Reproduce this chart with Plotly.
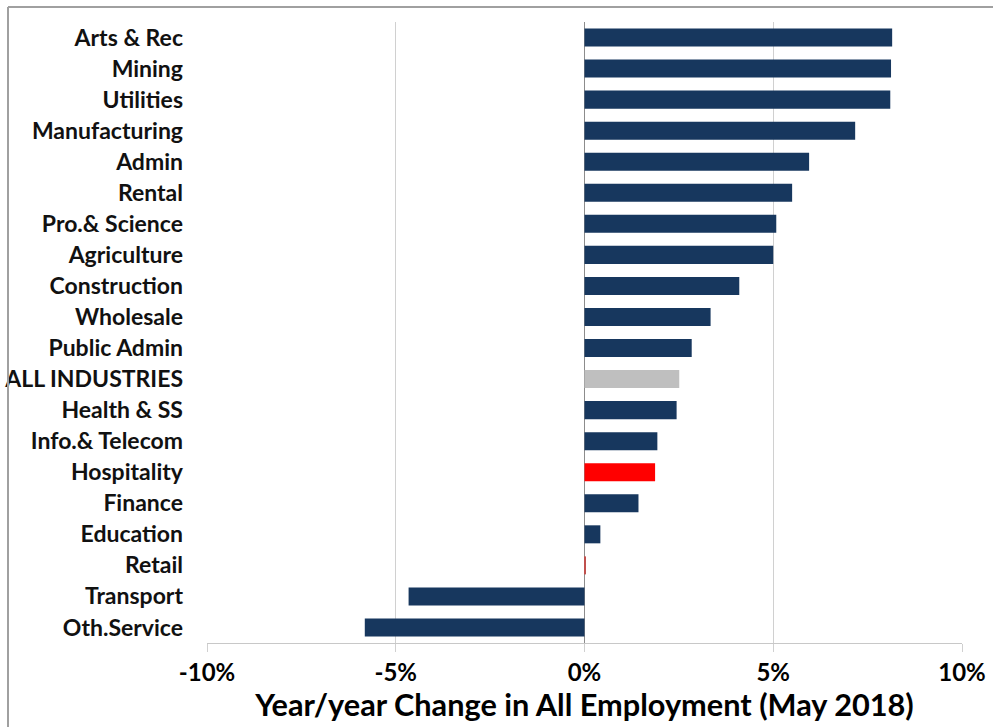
import plotly.graph_objects as go

categories = ["Arts & Rec", "Mining", "Utilities", "Manufacturing", "Admin", "Rental",
              "Pro.& Science", "Agriculture", "Construction", "Wholesale", "Public Admin",
              "ALL INDUSTRIES", "Health & SS", "Info.& Telecom", "Hospitality", "Finance",
              "Education", "Retail", "Transport", "Oth.Service"]
values = [8.15, 8.12, 8.1, 7.17, 5.95, 5.5, 5.08, 5.0, 4.1, 3.34, 2.84,
          2.51, 2.44, 1.93, 1.87, 1.43, 0.42, 0.04, -4.66, -5.82]
colors = ["#17375E"] * 11 + ["#BFBFBF", "#17375E", "#17375E", "#FF0000", "#17375E",
          "#17375E", "#C0504D", "#17375E", "#17375E"]
tick_vals = [-10, -5, 0, 5, 10]
tick_text = ["-10%", "-5%", "0%", "5%", "10%"]
x_title = "Year/year Change in All Employment (May 2018)"

FONT = "Lato"

fig = go.Figure(go.Bar(
    x=values, y=categories, orientation="h",
    marker=dict(color=colors, line=dict(width=0)),
    hoverinfo="x+y",
))

W, H = 993, 727
L, R, T, B = 207, 31, 22, 84
pw, ph = W - L - R, H - T - B

fig.update_layout(
    width=W, height=H,
    margin=dict(l=L, r=R, t=T, b=B, autoexpand=False),
    paper_bgcolor="white", plot_bgcolor="white",
    bargap=0.42,
    showlegend=False,
    font=dict(family=FONT, color="#000000"),
    xaxis=dict(
        range=[-10, 10], tickvals=tick_vals, ticktext=tick_text,
        automargin=False,
        showgrid=True, gridcolor="#D0D0D0", gridwidth=1,
        zeroline=True, zerolinecolor="#8C8C8C", zerolinewidth=1,
        showline=True, linecolor="#C8C8C8", linewidth=1,
        ticks="outside", ticklen=8, tickcolor="#D0D0D0",
        tickfont=dict(family=FONT, size=24, color="#000000", weight="bold"),
        title=dict(text=x_title, standoff=2,
                   font=dict(family=FONT, size=30.7, color="#000000", weight="bold")),
        fixedrange=True,
    ),
    yaxis=dict(
        autorange="reversed", automargin=False,
        showgrid=False, zeroline=False, showline=False,
        ticks="", ticklabelstandoff=23,
        tickfont=dict(family=FONT, size=23, color="#111111", weight="bold"),
        fixedrange=True,
    ),
)

# outer chart frame (left and top edges visible in reference)
x_left = (8 - L) / pw
y_top = 1 + (T - 7) / ph
fig.add_shape(type="line", xref="paper", yref="paper", x0=x_left, x1=x_left,
              y0=-2, y1=y_top, line=dict(color="#A0A0A0", width=2))
fig.add_shape(type="line", xref="paper", yref="paper", x0=x_left, x1=2.0,
              y0=y_top, y1=y_top, line=dict(color="#A0A0A0", width=2))

fig.write_html(
    "out.html",
    config={"displayModeBar": False},
    post_script="document.body.style.margin='0';document.body.style.overflow='hidden';",
)
